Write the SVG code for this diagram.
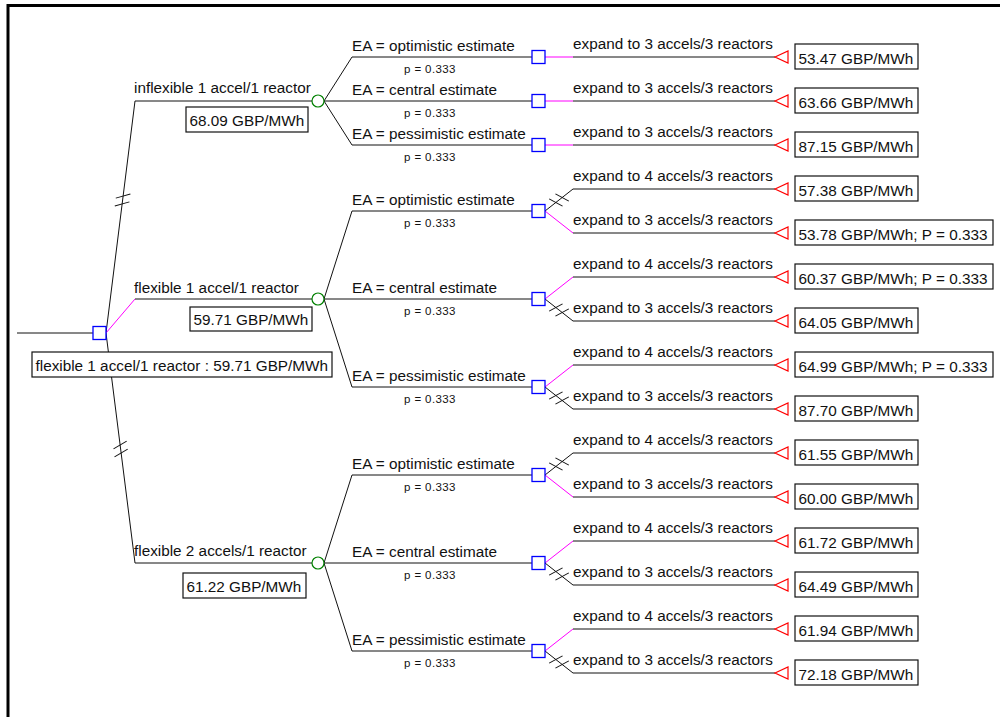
<svg xmlns="http://www.w3.org/2000/svg" xmlns:xlink="http://www.w3.org/1999/xlink" width="1000" height="717" viewBox="0 0 1000 717">
<style>
.ln{fill:none;stroke:#111;stroke-width:1}
.pk{fill:none;stroke:#ff00ff;stroke-width:1}
.hs{stroke:#111;stroke-width:1}
.dec{fill:#fff;stroke:#0000ff;stroke-width:1.3}
.chn{fill:#fff;stroke:#008000;stroke-width:1.2}
.trm{fill:#fff;stroke:#ff0000;stroke-width:1.2}
.box{fill:#fff;stroke:#111;stroke-width:1.2}
text{font-family:"Liberation Sans",Arial,sans-serif;fill:#111}
.t{font-size:15.3px}
.p{font-size:11.5px;letter-spacing:0.4px}
</style>
<defs>
<g id="hash"><line class="hs" x1="-7" y1="-7" x2="-1" y2="7"/><line class="hs" x1="1" y1="-7" x2="7" y2="7"/></g>
<rect id="sq" x="-6.5" y="-6.5" width="13" height="13"/>
<circle id="ci" cx="0" cy="0" r="6"/>
<polygon id="tri" points="0,0 13,-6 13,6"/>
</defs>
<rect width="1000" height="717" fill="#fff"/>
<path d="M8,717 V5.5 H1000" fill="none" stroke="#000" stroke-width="3"/>

<g id="connectors">
<path class="ln" d="M17,333 H93"/>
<!-- level 1 -->
<path class="ln" d="M106,333 L135,101 H312"/>
<path class="pk" d="M106,333 L135,299"/>
<path class="ln" d="M135,299 H312"/>
<path class="ln" d="M106,333 L135,563 H312"/>
<use href="#hash" transform="translate(122.6,200) rotate(-82.9)"/>
<use href="#hash" transform="translate(120.6,449) rotate(82.8)"/>
<!-- level 2 -->
<path class="ln" d="M324,101 L352,57 H532 M324,101 H532 M324,101 L352,145 H532"/>
<path class="ln" d="M324,299 L352,211 H532 M324,299 H532 M324,299 L352,387 H532"/>
<path class="ln" d="M324,563 L352,475 H532 M324,563 H532 M324,563 L352,651 H532"/>
<!-- level 3, inflexible -->
<path class="pk" d="M545,57 H573 M545,101 H573 M545,145 H573"/>
<path class="ln" d="M573,57 H775 M573,101 H775 M573,145 H775"/>
<!-- level 3, flexible 1 -->
<path class="ln" d="M545,211 L573,189 H775"/>
<path class="pk" d="M545,211 L573,233"/><path class="ln" d="M573,233 H775"/>
<path class="pk" d="M545,299 L573,277"/><path class="ln" d="M573,277 H775"/>
<path class="ln" d="M545,299 L573,321 H775"/>
<path class="pk" d="M545,387 L573,365"/><path class="ln" d="M573,365 H775"/>
<path class="ln" d="M545,387 L573,409 H775"/>
<!-- level 3, flexible 2 -->
<path class="ln" d="M545,475 L573,453 H775"/>
<path class="pk" d="M545,475 L573,497"/><path class="ln" d="M573,497 H775"/>
<path class="pk" d="M545,563 L573,541"/><path class="ln" d="M573,541 H775"/>
<path class="ln" d="M545,563 L573,585 H775"/>
<path class="pk" d="M545,651 L573,629"/><path class="ln" d="M573,629 H775"/>
<path class="ln" d="M545,651 L573,673 H775"/>
<!-- pruned marks -->
<use href="#hash" transform="translate(559,200) rotate(-38.2)"/>
<use href="#hash" transform="translate(559,310) rotate(38.2) scale(1,-1)"/>
<use href="#hash" transform="translate(559,398) rotate(38.2) scale(1,-1)"/>
<use href="#hash" transform="translate(559,464) rotate(-38.2)"/>
<use href="#hash" transform="translate(559,574) rotate(38.2) scale(1,-1)"/>
<use href="#hash" transform="translate(559,662) rotate(38.2) scale(1,-1)"/>

<!-- branch labels -->
<text class="t" x="134" y="93">inflexible 1 accel/1 reactor</text>
<text class="t" x="134" y="292.5">flexible 1 accel/1 reactor</text>
<text class="t" x="134" y="556">flexible 2 accels/1 reactor</text>

<text class="t" x="352" y="50.5">EA = optimistic estimate</text>
<text class="p" x="404" y="73">p = 0.333</text>
<text class="t" x="352" y="94.5">EA = central estimate</text>
<text class="p" x="404" y="117">p = 0.333</text>
<text class="t" x="352" y="138.5">EA = pessimistic estimate</text>
<text class="p" x="404" y="161">p = 0.333</text>

<text class="t" x="352" y="204.5">EA = optimistic estimate</text>
<text class="p" x="404" y="227">p = 0.333</text>
<text class="t" x="352" y="292.5">EA = central estimate</text>
<text class="p" x="404" y="315">p = 0.333</text>
<text class="t" x="352" y="380.5">EA = pessimistic estimate</text>
<text class="p" x="404" y="403">p = 0.333</text>

<text class="t" x="352" y="468.5">EA = optimistic estimate</text>
<text class="p" x="404" y="491">p = 0.333</text>
<text class="t" x="352" y="556.5">EA = central estimate</text>
<text class="p" x="404" y="579">p = 0.333</text>
<text class="t" x="352" y="644.5">EA = pessimistic estimate</text>
<text class="p" x="404" y="667">p = 0.333</text>

<text class="t" x="573" y="49">expand to 3 accels/3 reactors</text>
<text class="t" x="573" y="93">expand to 3 accels/3 reactors</text>
<text class="t" x="573" y="137">expand to 3 accels/3 reactors</text>
<text class="t" x="573" y="181">expand to 4 accels/3 reactors</text>
<text class="t" x="573" y="225">expand to 3 accels/3 reactors</text>
<text class="t" x="573" y="269">expand to 4 accels/3 reactors</text>
<text class="t" x="573" y="313">expand to 3 accels/3 reactors</text>
<text class="t" x="573" y="357">expand to 4 accels/3 reactors</text>
<text class="t" x="573" y="401">expand to 3 accels/3 reactors</text>
<text class="t" x="573" y="445">expand to 4 accels/3 reactors</text>
<text class="t" x="573" y="489">expand to 3 accels/3 reactors</text>
<text class="t" x="573" y="533">expand to 4 accels/3 reactors</text>
<text class="t" x="573" y="577">expand to 3 accels/3 reactors</text>
<text class="t" x="573" y="621">expand to 4 accels/3 reactors</text>
<text class="t" x="573" y="665">expand to 3 accels/3 reactors</text>
</g>

<g id="root">
<use href="#sq" class="dec" x="99.5" y="333"/>
<rect class="box" x="32" y="352" width="300" height="25"/>
<text class="t" x="35.5" y="370.5">flexible 1 accel/1 reactor : 59.71 GBP/MWh</text>
</g>

<g id="chance-inflexible">
<use href="#ci" class="chn" x="318" y="101"/>
<rect class="box" x="186" y="107" width="122" height="25"/>
<text class="t" x="189.5" y="125.5">68.09 GBP/MWh</text>
</g>
<g id="chance-flexible1">
<use href="#ci" class="chn" x="318" y="299"/>
<rect class="box" x="190" y="307" width="122" height="24"/>
<text class="t" x="193.5" y="325">59.71 GBP/MWh</text>
</g>
<g id="chance-flexible2">
<use href="#ci" class="chn" x="318" y="563"/>
<rect class="box" x="183" y="573" width="123" height="25"/>
<text class="t" x="186.5" y="591.5">61.22 GBP/MWh</text>
</g>

<g id="dec-a1"><use href="#sq" class="dec" x="538.5" y="57"/></g>
<g id="dec-a2"><use href="#sq" class="dec" x="538.5" y="101"/></g>
<g id="dec-a3"><use href="#sq" class="dec" x="538.5" y="145"/></g>
<g id="dec-b1"><use href="#sq" class="dec" x="538.5" y="211"/></g>
<g id="dec-b2"><use href="#sq" class="dec" x="538.5" y="299"/></g>
<g id="dec-b3"><use href="#sq" class="dec" x="538.5" y="387"/></g>
<g id="dec-c1"><use href="#sq" class="dec" x="538.5" y="475"/></g>
<g id="dec-c2"><use href="#sq" class="dec" x="538.5" y="563"/></g>
<g id="dec-c3"><use href="#sq" class="dec" x="538.5" y="651"/></g>

<g id="term-1"><use href="#tri" class="trm" x="775" y="57"/><rect class="box" x="795" y="44" width="123" height="25"/><text class="t" x="798.5" y="64">53.47 GBP/MWh</text></g>
<g id="term-2"><use href="#tri" class="trm" x="775" y="101"/><rect class="box" x="795" y="88" width="123" height="25"/><text class="t" x="798.5" y="108">63.66 GBP/MWh</text></g>
<g id="term-3"><use href="#tri" class="trm" x="775" y="145"/><rect class="box" x="795" y="132" width="123" height="25"/><text class="t" x="798.5" y="152">87.15 GBP/MWh</text></g>
<g id="term-4"><use href="#tri" class="trm" x="775" y="189"/><rect class="box" x="795" y="176" width="123" height="25"/><text class="t" x="798.5" y="196">57.38 GBP/MWh</text></g>
<g id="term-5"><use href="#tri" class="trm" x="775" y="233"/><rect class="box" x="795" y="220" width="198" height="25"/><text class="t" x="798.5" y="240">53.78 GBP/MWh; P = 0.333</text></g>
<g id="term-6"><use href="#tri" class="trm" x="775" y="277"/><rect class="box" x="795" y="264" width="198" height="25"/><text class="t" x="798.5" y="284">60.37 GBP/MWh; P = 0.333</text></g>
<g id="term-7"><use href="#tri" class="trm" x="775" y="321"/><rect class="box" x="795" y="308" width="123" height="25"/><text class="t" x="798.5" y="328">64.05 GBP/MWh</text></g>
<g id="term-8"><use href="#tri" class="trm" x="775" y="365"/><rect class="box" x="795" y="352" width="198" height="25"/><text class="t" x="798.5" y="372">64.99 GBP/MWh; P = 0.333</text></g>
<g id="term-9"><use href="#tri" class="trm" x="775" y="409"/><rect class="box" x="795" y="396" width="123" height="25"/><text class="t" x="798.5" y="416">87.70 GBP/MWh</text></g>
<g id="term-10"><use href="#tri" class="trm" x="775" y="453"/><rect class="box" x="795" y="440" width="123" height="25"/><text class="t" x="798.5" y="460">61.55 GBP/MWh</text></g>
<g id="term-11"><use href="#tri" class="trm" x="775" y="497"/><rect class="box" x="795" y="484" width="123" height="25"/><text class="t" x="798.5" y="504">60.00 GBP/MWh</text></g>
<g id="term-12"><use href="#tri" class="trm" x="775" y="541"/><rect class="box" x="795" y="528" width="123" height="25"/><text class="t" x="798.5" y="548">61.72 GBP/MWh</text></g>
<g id="term-13"><use href="#tri" class="trm" x="775" y="585"/><rect class="box" x="795" y="572" width="123" height="25"/><text class="t" x="798.5" y="592">64.49 GBP/MWh</text></g>
<g id="term-14"><use href="#tri" class="trm" x="775" y="629"/><rect class="box" x="795" y="616" width="123" height="25"/><text class="t" x="798.5" y="636">61.94 GBP/MWh</text></g>
<g id="term-15"><use href="#tri" class="trm" x="775" y="673"/><rect class="box" x="795" y="660" width="123" height="25"/><text class="t" x="798.5" y="680">72.18 GBP/MWh</text></g>
</svg>
